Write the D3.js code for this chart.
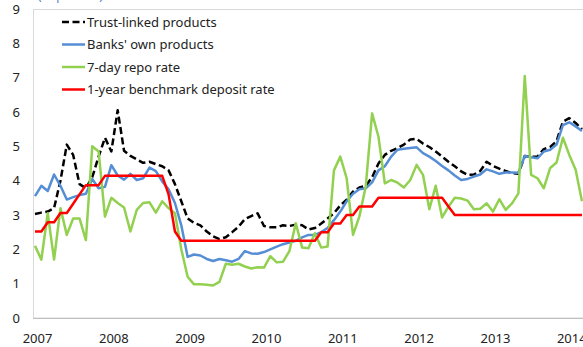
<html>
<head>
    <script src="https://d3js.org/d3.v7.min.js"></script>
    <style>
        body { margin: 0; background: #fff; }
        text { font-family: "Noto Sans", sans-serif; }
    </style>
</head>

<body>
    <div id="cont">
    </div>

    <script>
        // monthly, Jan 2007 - Mar 2014, in percent
        var years = ["2007", "2008", "2009", "2010", "2011", "2012", "2013", "2014"];
        var yTicks = [0, 1, 2, 3, 4, 5, 6, 7, 8, 9];
        var names = ["Trust-linked products", "Banks' own products", "7-day repo rate", "1-year benchmark deposit rate"];

        var trust = [
            3.03, 3.07, 3.1, 3.2, 4.0, 5.05, 4.75, 3.9, 3.78, 4.1, 4.7, 5.25,
            4.85, 6.05, 4.87, 4.72, 4.62, 4.52, 4.55, 4.48, 4.42, 4.3, 3.9, 3.4,
            2.9, 2.77, 2.7, 2.52, 2.38, 2.3, 2.35, 2.5, 2.66, 2.88, 2.97, 3.05,
            2.68, 2.64, 2.64, 2.7, 2.68, 2.72, 2.7, 2.58, 2.62, 2.75, 2.9, 3.05,
            3.28, 3.45, 3.68, 3.8, 3.85, 4.1, 4.5, 4.75, 4.87, 4.95, 5.05, 5.2,
            5.22, 5.08, 4.98, 4.85, 4.7, 4.55, 4.42, 4.27, 4.17, 4.18, 4.28, 4.55,
            4.43, 4.35, 4.28, 4.22, 4.2, 4.72, 4.7, 4.7, 4.92, 4.98, 5.15, 5.72,
            5.82, 5.68, 5.5
        ];
        var banks = [
            3.55, 3.85, 3.7, 4.18, 3.85, 3.45, 3.52, 3.58, 3.62, 4.05, 3.78, 3.82,
            4.45, 4.15, 4.03, 4.2, 4.02, 4.07, 4.38, 4.28, 3.98, 3.75, 3.35, 2.7,
            1.78, 1.85, 1.82, 1.72, 1.66, 1.72, 1.68, 1.64, 1.72, 1.95, 1.88, 1.87,
            1.92, 2.0, 2.08, 2.15, 2.2, 2.25, 2.35, 2.42, 2.42, 2.5, 2.62, 2.85,
            3.1, 3.4, 3.62, 3.75, 3.78, 3.95, 4.3, 4.42, 4.7, 4.9, 4.93, 4.95,
            4.97, 4.8, 4.7, 4.57, 4.43, 4.3, 4.15, 4.02, 4.05, 4.12, 4.18, 4.33,
            4.27, 4.2, 4.24, 4.24, 4.23, 4.72, 4.68, 4.65, 4.85, 4.9, 5.05, 5.62,
            5.7, 5.58, 5.45
        ];
        var repo = [
            2.1, 1.7, 3.05, 1.7, 3.2, 2.42, 2.9, 2.9, 2.27, 5.0, 4.85, 2.95,
            3.5, 3.35, 3.22, 2.52, 3.15, 3.35, 3.37, 3.07, 3.4, 3.2, 3.05, 2.0,
            1.2, 0.98, 0.98, 0.97, 0.95, 1.05, 1.58, 1.55, 1.58, 1.5, 1.44, 1.48,
            1.47, 1.8, 1.62, 1.64, 1.95, 2.76, 2.05, 2.03, 2.47, 2.05, 2.08, 4.3,
            4.7, 4.07, 2.42, 2.96, 3.83, 5.96, 5.28, 3.92, 4.02, 3.94, 3.8, 4.02,
            4.46, 4.17, 3.17, 3.85, 2.93, 3.24, 3.5, 3.48, 3.42, 3.17, 3.18, 3.34,
            3.1, 3.46, 3.15, 3.34, 3.63, 7.05, 4.17, 4.07, 3.78, 4.37, 4.53, 5.25,
            4.75, 4.32, 3.4
        ];
        var deposit = [
            2.52, 2.52, 2.79, 2.79, 3.06, 3.06, 3.33, 3.60, 3.87, 3.87, 3.87, 4.14,
            4.14, 4.14, 4.14, 4.14, 4.14, 4.14, 4.14, 4.14, 4.14, 3.60, 2.52, 2.25,
            2.25, 2.25, 2.25, 2.25, 2.25, 2.25, 2.25, 2.25, 2.25, 2.25, 2.25, 2.25,
            2.25, 2.25, 2.25, 2.25, 2.25, 2.25, 2.25, 2.25, 2.25, 2.50, 2.50, 2.75,
            2.75, 3.00, 3.00, 3.25, 3.25, 3.25, 3.50, 3.50, 3.50, 3.50, 3.50, 3.50,
            3.50, 3.50, 3.50, 3.50, 3.50, 3.25, 3.00, 3.00, 3.00, 3.00, 3.00, 3.00,
            3.00, 3.00, 3.00, 3.00, 3.00, 3.00, 3.00, 3.00, 3.00, 3.00, 3.00, 3.00,
            3.00, 3.00, 3.00
        ];

        var svg = d3.select("body").select("#cont").append("svg")
            .attr("width", 583)
            .attr("height", 347);

        var x = d3.scaleLinear().domain([0, trust.length - 1]).range([35, 582]);
        var y = d3.scaleLinear().domain([0, 9]).range([318, 9]);

        // unit note, clipped at the top edge
        svg.append("text")
            .attr("x", 38).attr("y", 0)
            .attr("fill", "#4f81bd")
            .style("font-size", "12px")
            .text("(In percent)");

        // plot frame
        svg.append("rect")
            .attr("x", 33.5).attr("y", 9.5)
            .attr("width", 560).attr("height", 308.5)
            .attr("fill", "none")
            .attr("stroke", "#d9d9d9");

        svg.append("line")
            .attr("x1", 33).attr("x2", 583)
            .attr("y1", y(0) + 0.5).attr("y2", y(0) + 0.5)
            .attr("stroke", "#bfbfbf");

        var xAxis = svg.append("g")
            .attr("transform", "translate(0," + y(0) + ")")
            .call(d3.axisBottom(x)
                .tickValues(years.map(function (d, i) { return i * 12; }))
                .tickFormat(function (d) { return years[d / 12]; })
                .tickSize(0)
                .tickPadding(16));
        xAxis.select(".domain").remove();
        xAxis.selectAll("text")
            .attr("dx", 2)
            .style("font-size", "13px")
            .attr("fill", "#222");

        var yAxis = svg.append("g")
            .attr("transform", "translate(33,0)")
            .call(d3.axisLeft(y).tickValues(yTicks).tickSize(0).tickPadding(13));
        yAxis.select(".domain").remove();
        yAxis.selectAll("text")
            .style("font-size", "13px")
            .attr("fill", "#222");

        var line = d3.line()
            .x(function (d, i) { return x(i); })
            .y(function (d) { return y(d); });

        var series = [
            { values: trust, color: "#000000", dash: "7,3.5" },
            { values: banks, color: "#558ed5", dash: null },
            { values: repo, color: "#92d050", dash: null },
            { values: deposit, color: "#ff0000", dash: null }
        ];

        svg.selectAll(".series")
            .data(series)
            .enter().append("path")
            .attr("class", "series")
            .attr("d", function (d) { return line(d.values); })
            .attr("fill", "none")
            .attr("stroke", function (d) { return d.color; })
            .attr("stroke-width", 2.5)
            .attr("stroke-linejoin", "round")
            .attr("stroke-dasharray", function (d) { return d.dash; });

        // legend
        var legend = svg.selectAll(".legend")
            .data(series)
            .enter().append("g")
            .attr("class", "legend")
            .attr("transform", function (d, i) { return "translate(62," + (22 + i * 22.5) + ")"; });

        legend.append("line")
            .attr("x1", 0).attr("x2", 23)
            .attr("stroke", function (d) { return d.color; })
            .attr("stroke-width", 2.5)
            .attr("stroke-dasharray", function (d) { return d.dash; });

        legend.append("text")
            .attr("x", 25)
            .attr("dy", "0.35em")
            .style("font-size", "13px")
            .attr("fill", "#222")
            .text(function (d, i) { return names[i]; });
    </script>
</body>
</html>
